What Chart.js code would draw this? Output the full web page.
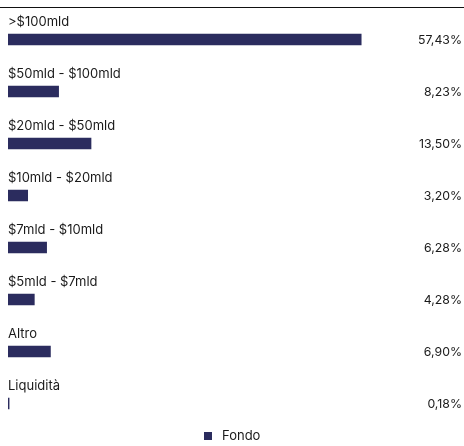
<!DOCTYPE html>
<html>
<head>
<meta charset="UTF-8">
<script src="https://cdn.jsdelivr.net/npm/chart.js@4.4.1/dist/chart.umd.min.js"></script>
<style>
  html, body { margin: 0; padding: 0; background: #fff; }
  #wrap { width: 464px; height: 446px; position: relative; }
</style>
</head>
<body>
<div id="wrap"><canvas id="chart"></canvas></div>
<script>
// dati
var categories = [">$100mld", "$50mld - $100mld", "$20mld - $50mld", "$10mld - $20mld",
                  "$7mld - $10mld", "$5mld - $7mld", "Altro", "Liquidità"];
var fondo = [57.43, 8.23, 13.50, 3.20, 6.28, 4.28, 6.90, 0.18];
var seriesName = "Fondo";

var barColor = "#2b2c5e";
var textColor = "#1a1a1a";
var fontFamily = "Inter, 'Liberation Sans', Arial, sans-serif";

function fmt(v) {
    return v.toFixed(2).replace(".", ",") + "%";
}

// etichette sopra le barre, valori a destra, linea in alto e legenda
var labelsPlugin = {
    id: "barLabels",
    afterDatasetsDraw: function (chart) {
        var ctx = chart.ctx;
        var meta = chart.getDatasetMeta(0);
        ctx.save();
        ctx.fillStyle = textColor;
        meta.data.forEach(function (bar, i) {
            var top = bar.y - bar.height / 2;
            ctx.font = "13px " + fontFamily;
            ctx.textAlign = "left";
            ctx.textBaseline = "alphabetic";
            ctx.fillText(categories[i], chart.chartArea.left, top - 8);
            ctx.font = "12.3px " + fontFamily;
            ctx.textAlign = "right";
            ctx.textBaseline = "middle";
            ctx.fillText(fmt(fondo[i]), chart.width - 2, bar.y + 0.5);
        });
        ctx.strokeStyle = "#111";
        ctx.lineWidth = 1;
        ctx.beginPath();
        ctx.moveTo(0, 7.5);
        ctx.lineTo(chart.width, 7.5);
        ctx.stroke();

        // legenda
        ctx.font = "13px " + fontFamily;
        var tw = ctx.measureText(seriesName).width;
        var total = 8 + 10 + tw;
        var x0 = Math.round(chart.width / 2 - total / 2);
        ctx.fillStyle = barColor;
        ctx.fillRect(x0, 432, 8, 8);
        ctx.fillStyle = textColor;
        ctx.textAlign = "left";
        ctx.textBaseline = "middle";
        ctx.fillText(seriesName, x0 + 18, 436.5);
        ctx.restore();
    }
};

var ctx = document.getElementById("chart").getContext("2d");
var chart = new Chart(ctx, {
    type: "bar",
    data: {
        labels: categories,
        datasets: [{
            label: seriesName,
            data: fondo,
            backgroundColor: barColor,
            barThickness: 11
        }]
    },
    options: {
        indexAxis: "y",
        responsive: true,
        maintainAspectRatio: false,
        animation: false,
        layout: { padding: { top: 13.5, left: 8, right: 87, bottom: 16.5 } },
        scales: {
            x: { display: false, min: 0, max: 60 },
            y: { display: false }
        },
        plugins: {
            tooltip: { enabled: false },
            legend: { display: false }
        }
    },
    plugins: [labelsPlugin]
});
</script>
</body>
</html>
